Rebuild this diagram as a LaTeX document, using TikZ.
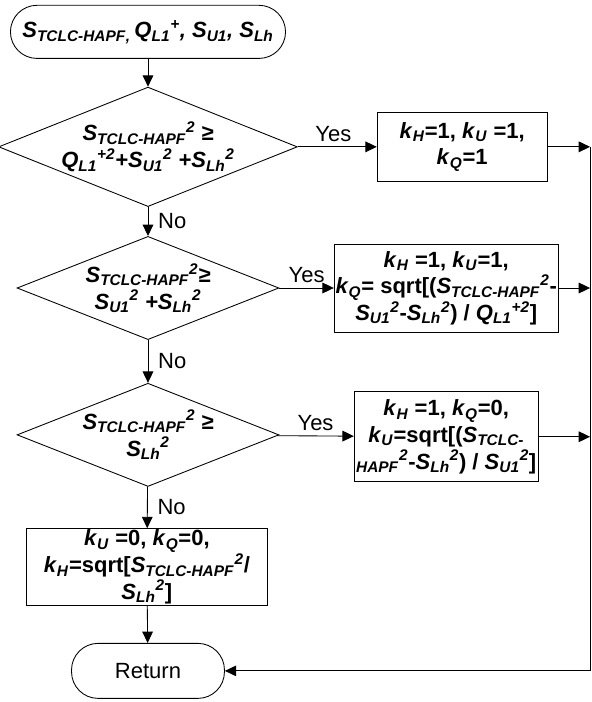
\documentclass[tikz,border=0pt]{standalone}
\usepackage{fontspec}
\setmainfont{Liberation Sans}
\usetikzlibrary{arrows.meta, shapes.geometric}
\newcommand{\lowi}[1]{\textsubscript{\textit{#1}}}
\newcommand{\highi}[1]{\textsuperscript{\textit{#1}}}
\newcommand{\Stc}{\textit{S}\lowi{TCLC-HAPF}}

\begin{document}
\begin{tikzpicture}[
  line width=0.65pt,
  >={Triangle[length=8.5pt,width=8pt]},
  every node/.style={font=\fontsize{16.5}{20}\selectfont},
  term/.style={draw, rectangle, rounded corners=0.7cm, inner sep=1pt},
  cond/.style={draw, diamond, aspect=2.5, minimum width=6.9cm, minimum height=2.72cm,
    inner sep=0pt, align=center, font=\fontsize{16.5}{20}\selectfont\bfseries\itshape},
  act/.style={draw, rectangle, align=center, inner sep=1pt,
    font=\fontsize{16.5}{20}\selectfont\bfseries}
]
\useasboundingbox (0,0) rectangle (15.6,18.5);

\node[term, minimum width=7.25cm, minimum height=1.4cm, font=\fontsize{16.5}{20}\selectfont\bfseries\itshape]
  (start) at (3.9,17.66) {\Stc\lowi{,}\,Q\lowi{L1}\highi{+}, S\lowi{U1}, S\lowi{Lh}};

\node[cond] (c1) at (3.9,14.63) {\Stc\highi{2} ≥\\ Q\lowi{L1}\highi{+2}+S\lowi{U1}\highi{2} +S\lowi{Lh}\highi{2}};
\node[cond] (c2) at (3.9,10.91) {\Stc\highi{2}≥\\ S\lowi{U1}\highi{2} +S\lowi{Lh}\highi{2}};
\node[cond] (c3) at (3.9,7.04) {\Stc\highi{2} ≥\\ S\lowi{Lh}\highi{2}};

\node[act, minimum width=4.48cm, minimum height=1.82cm] (a1) at (12.18,14.63)
  {\textit{k}\lowi{H}=1, \textit{k}\lowi{U} =1,\\ \textit{k}\lowi{Q}=1};
\node[act, minimum width=5.85cm, minimum height=2.32cm] (a2) at (11.76,10.91)
  {\textit{k}\lowi{H} =1, \textit{k}\lowi{U}=1,\\
   \textit{k}\lowi{Q}= sqrt[(\Stc\highi{2}-\\
   \textit{S}\lowi{U1}\highi{2}-\textit{S}\lowi{Lh}\highi{2}) / \textit{Q}\lowi{L1}\highi{+2}]};
\node[act, minimum width=4.85cm, minimum height=2.37cm] (a3) at (11.76,6.99)
  {\textit{k}\lowi{H} =1, \textit{k}\lowi{Q}=0,\\
   \textit{k}\lowi{U}=sqrt[(\textit{S}\lowi{TCLC-}\\
   \lowi{HAPF}\highi{2}-\textit{S}\lowi{Lh}\highi{2}) / \textit{S}\lowi{U1}\highi{2}]};
\node[act, minimum width=6.33cm, minimum height=2.0cm] (a4) at (3.87,3.56)
  {\textit{k}\lowi{U} =0, \textit{k}\lowi{Q}=0,\\
   \textit{k}\lowi{H}=sqrt[\Stc\highi{2}/\\
   \textit{S}\lowi{Lh}\highi{2}]};

\node[term, minimum width=4.03cm, minimum height=1.45cm] (ret) at (3.9,0.82) {Return};

\coordinate (rt) at (15.55,14.63);

\draw[->] (start) -- (c1);
\draw[->] (c1) -- node[right=4pt]{No} (c2);
\draw[->] (c2) -- node[right=4pt]{No} (c3);
\draw[->] (c3) -- node[right=4pt]{No} (a4);
\draw[->] (a4) -- (ret);

\draw[->] (c1) -- node[above, pos=.45]{Yes} (a1);
\draw[->] (c2) -- node[above]{Yes} (a2);
\draw[->] (c3) -- node[above]{Yes} (a3);

\draw[->] (a1) -- (a1 -| rt);
\draw[->] (a2) -- (a2 -| rt);
\draw[->] (a3) -- (a3 -| rt);
\draw[->] (rt) |- (ret);
\end{tikzpicture}
\end{document}
